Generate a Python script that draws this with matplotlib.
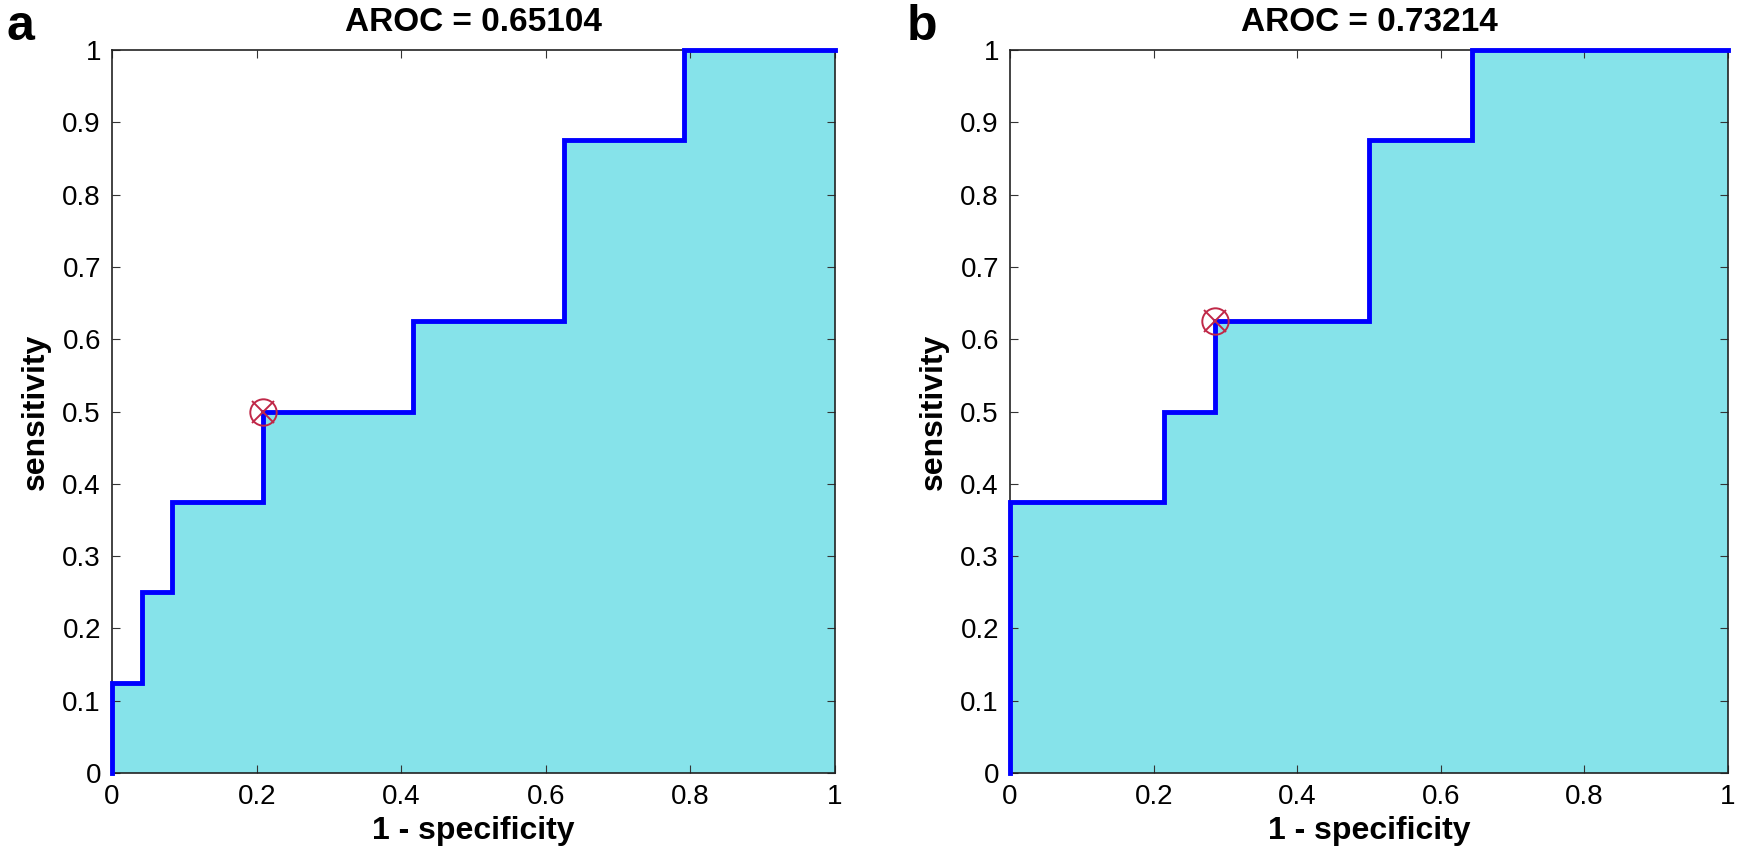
import matplotlib
matplotlib.use('Agg')
import matplotlib.pyplot as plt

plt.rcParams['font.family'] = ['Liberation Sans', 'DejaVu Sans']

# ROC step points (1 - specificity, sensitivity)
fpr_a = [0, 0, 0.0417, 0.0417, 0.0833, 0.0833, 0.2083, 0.2083, 0.4167, 0.4167, 0.625, 0.625, 0.7917, 0.7917, 1.0]
tpr_a = [0, 0.125, 0.125, 0.25, 0.25, 0.375, 0.375, 0.5, 0.5, 0.625, 0.625, 0.875, 0.875, 1.0, 1.0]
opt_a = (0.2083, 0.5)
aroc_a = 0.65104

fpr_b = [0, 0, 0.2143, 0.2143, 0.2857, 0.2857, 0.5, 0.5, 0.6429, 0.6429, 1.0]
tpr_b = [0, 0.375, 0.375, 0.5, 0.5, 0.625, 0.625, 0.875, 0.875, 1.0, 1.0]
opt_b = (0.2857, 0.625)
aroc_b = 0.73214

xticks = [0, 0.2, 0.4, 0.6, 0.8, 1]
yticks = [0, 0.1, 0.2, 0.3, 0.4, 0.5, 0.6, 0.7, 0.8, 0.9, 1]

fig = plt.figure(figsize=(17.4, 8.68), dpi=100)
ax_a = fig.add_axes([0.0644, 0.1094, 0.4155, 0.833])
ax_b = fig.add_axes([0.5805, 0.1094, 0.4126, 0.833])


def draw_roc(ax, fpr, tpr, opt, aroc):
    ax.fill_between(fpr, tpr, 0, color='#86E3EA', linewidth=0, zorder=1)
    ax.plot(fpr, tpr, color='#0000FF', linewidth=3.5, zorder=3,
            solid_joinstyle='miter', clip_on=False)
    ax.plot(opt[0], opt[1], marker='o', markersize=19, fillstyle='none',
            markeredgecolor='#C02848', markeredgewidth=1.4, zorder=4)
    ax.plot(opt[0], opt[1], marker='x', markersize=16,
            markeredgecolor='#C02848', markeredgewidth=1.4, zorder=4)
    ax.set_xlim(0, 1)
    ax.set_ylim(0, 1)
    ax.set_xticks(xticks)
    ax.set_xticklabels(['0', '0.2', '0.4', '0.6', '0.8', '1'])
    ax.set_yticks(yticks)
    ax.set_yticklabels(['0', '0.1', '0.2', '0.3', '0.4', '0.5', '0.6', '0.7', '0.8', '0.9', '1'])
    ax.tick_params(direction='in', top=True, right=True, length=6,
                   labelsize=20, pad=8, color='#333333')
    for k, v in ax.spines.items():
        v.set_linewidth(1.2)
        v.set_color('#222222')
    ax.set_xlabel('1 - specificity', fontsize=23, fontweight='bold', labelpad=4)
    ax.set_ylabel('sensitivity', fontsize=23, fontweight='bold', labelpad=8)
    ax.set_title('AROC = {}'.format(aroc), fontsize=24, fontweight='bold', pad=14)


draw_roc(ax_a, fpr_a, tpr_a, opt_a, aroc_a)
draw_roc(ax_b, fpr_b, tpr_b, opt_b, aroc_b)

fig.text(0.004, 0.995, 'a', fontsize=36, fontweight='bold', ha='left', va='top')
fig.text(0.521, 0.995, 'b', fontsize=36, fontweight='bold', ha='left', va='top')

fig.savefig('out.png', dpi=100)
